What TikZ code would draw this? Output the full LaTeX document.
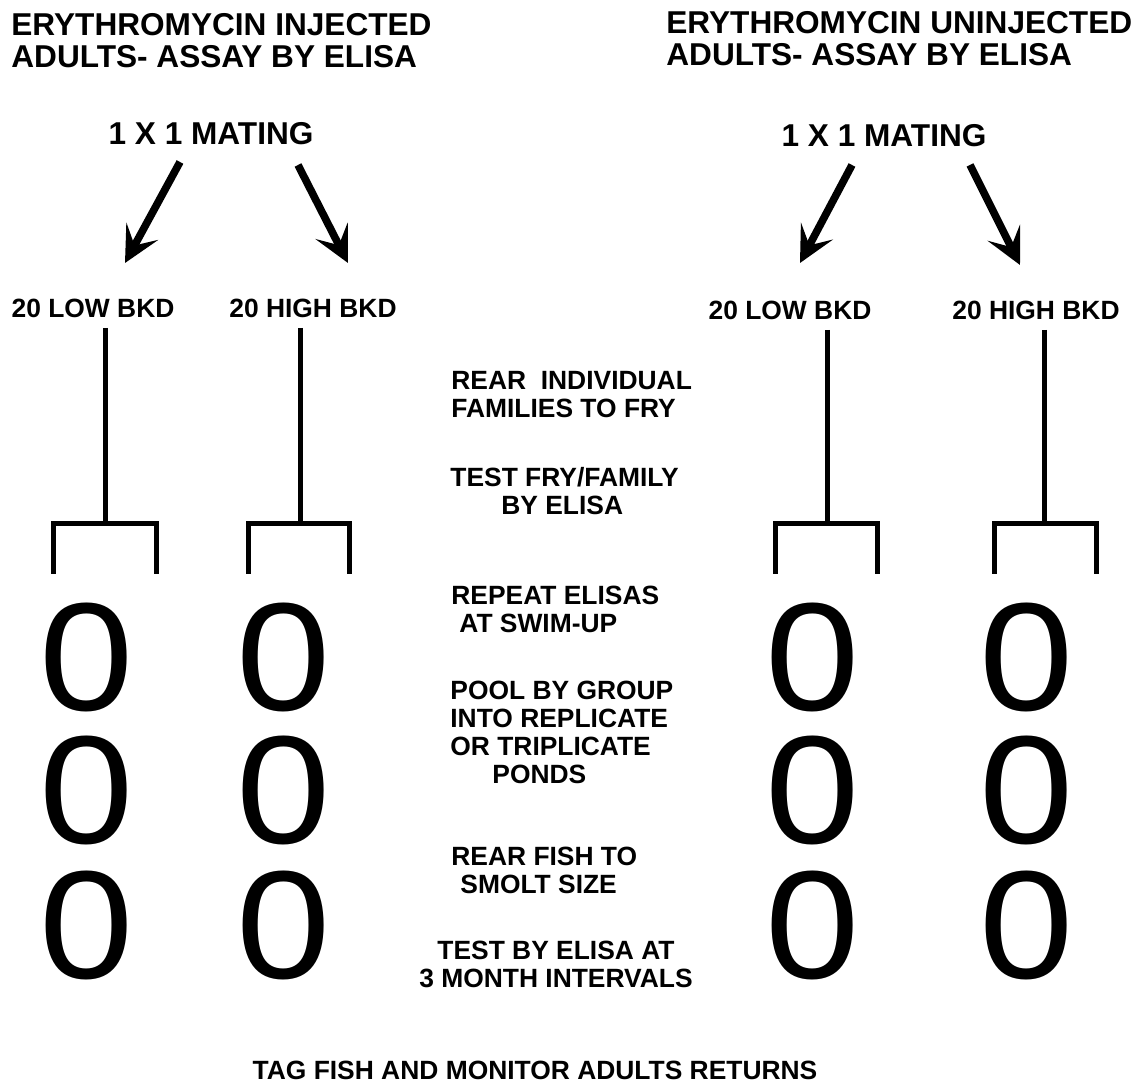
\documentclass[tikz,border=0pt]{standalone}
\usepackage{fontspec}
\setmainfont{Liberation Sans}
\usetikzlibrary{arrows.meta}
\tikzset{heading/.style={font=\bfseries\fontsize{15.8}{16}\selectfont,anchor=north west,align=left,inner sep=0pt},mating/.style={font=\bfseries\fontsize{15.8}{16}\selectfont,inner sep=0pt},group/.style={font=\bfseries\fontsize{13.2}{14}\selectfont,inner sep=0pt},stage/.style={font=\bfseries\fontsize{13.2}{14}\selectfont,anchor=north west,align=left,inner sep=0pt},pond/.style={font=\fontsize{77}{80}\selectfont,inner sep=0pt},cross/.style={line width=3.8pt,-{Stealth[length=18pt,width=18pt,inset=8pt]}},stem/.style={line width=2.5pt},fork/.style={line width=2.5pt}}

\begin{document}
\begin{tikzpicture}[x=0.5pt,y=-0.5pt]
\useasboundingbox (0,0) rectangle (1148,1085);
\node[heading] (inj) at (11,13) {ERYTHROMYCIN INJECTED\\ADULTS- ASSAY BY ELISA};
\node[heading] (uninj) at (666,11) {ERYTHROMYCIN UNINJECTED\\ADULTS- ASSAY BY ELISA};
\node[mating] (mi) at (211,134) {1 X 1 MATING};
\node[mating] (mu) at (884,136) {1 X 1 MATING};
\node[group] (li) at (93,308) {20 LOW BKD};
\node[group] (hi) at (313,308) {20 HIGH BKD};
\node[group] (lu) at (790,310) {20 LOW BKD};
\node[group] (hu) at (1036,310) {20 HIGH BKD};
% arrow ends
\coordinate (mi1) at (180,162); \coordinate (li0) at (125,263);
\coordinate (mi2) at (298,165); \coordinate (hi0) at (348,263);
\coordinate (mu1) at (852,165); \coordinate (lu0) at (800,263);
\coordinate (mu2) at (970,165); \coordinate (hu0) at (1020,265);
\draw[cross] (mi1)--(li0);
\draw[cross] (mi2)--(hi0);
\draw[cross] (mu1)--(lu0);
\draw[cross] (mu2)--(hu0);
% stems and forks
\foreach \g/\x/\xl/\xr/\yt in {1/105/53/156/328,2/300/248/349/328,3/827/775/877/330,4/1044/994/1096/330}{
\coordinate (top\g) at (\x,\yt);
\coordinate (bar\g) at (\x,524);
\draw[stem] (top\g)--(bar\g);
\draw[fork] (\xl,574) |- (bar\g) -| (\xr,574);
}
% ponds
\foreach \g/\x in {1/87,2/284,3/813,4/1027}
\foreach \r/\y in {1/657,2/790,3/925}
\node[pond] (p\g\r) at (\x,\y) {\scalebox{1.1}[1]{0}};
% steps
\node[stage] (s1) at (451,371) {REAR\ \ INDIVIDUAL\\FAMILIES TO FRY};
\node[stage] (s2) at (450,467) {TEST FRY/FAMILY\\\hspace*{25.5pt}BY ELISA};
\node[stage] (s3) at (451,586) {REPEAT ELISAS\\\hspace*{4pt}AT SWIM-UP};
\node[stage] (s4) at (450,681) {POOL BY GROUP\\INTO REPLICATE\\OR TRIPLICATE\\\hspace*{21pt}PONDS};
\node[stage] (s5) at (451,847) {REAR FISH TO\\\hspace*{4.5pt}SMOLT SIZE};
\node[stage,anchor=north,align=center] (s6) at (556,941) {TEST BY ELISA AT\\3 MONTH INTERVALS};
\node[group] (tag) at (535,1070) {TAG FISH AND MONITOR ADULTS RETURNS};
\end{tikzpicture}
\end{document}
